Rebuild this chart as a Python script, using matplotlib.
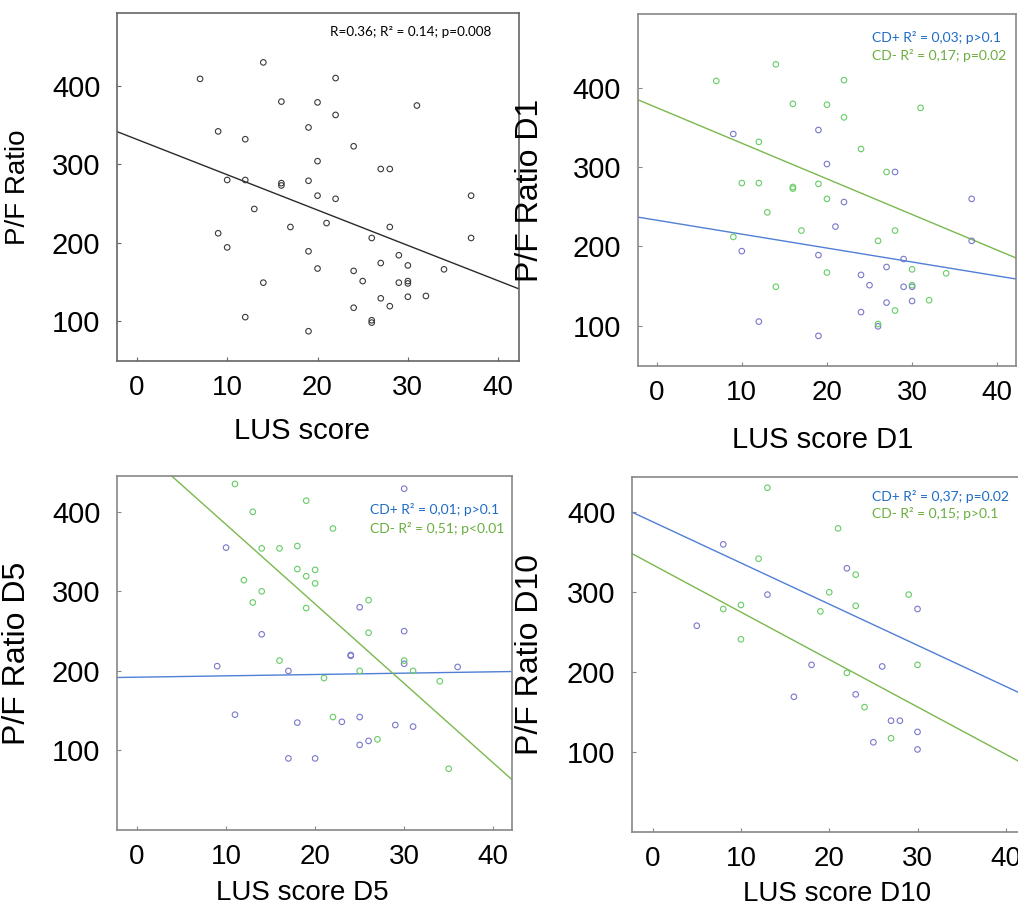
import matplotlib
import matplotlib.pyplot as plt

matplotlib.use("Agg")

# Panel A: all patients, LUS score vs P/F ratio
lus_all = [7, 14, 22, 16, 20, 22, 31, 9, 12, 19, 24, 20, 27, 28, 10, 12, 16, 16, 19, 20,
           22, 37, 13, 17, 21, 28, 9, 26, 37, 10, 29, 19, 27, 30, 20, 24, 34, 25, 29, 30,
           30, 14, 30, 32, 27, 28, 24, 12, 26, 26, 19]
pf_all = [409, 430, 410, 380, 379, 363, 375, 342, 332, 347, 323, 304, 294, 294, 280, 280,
          276, 273, 279, 260, 256, 260, 243, 220, 225, 220, 212, 206, 206, 194, 184, 189,
          174, 171, 167, 164, 166, 151, 149, 151, 148, 149, 131, 132, 129, 119, 117, 105,
          101, 98, 87]
line_all = (331.8, -4.51)  # intercept, slope

# Panel B: day 1, CD+ (blue) and CD- (green)
d1_pos_lus = [9, 19, 20, 28, 37, 22, 21, 37, 10, 19, 29, 27, 24, 25, 29, 30, 30, 27, 24, 12, 26, 19]
d1_pos_pf = [342, 347, 304, 294, 260, 256, 225, 207, 194, 189, 184, 174, 164, 151, 149, 149,
             131, 129, 117, 105, 99, 87]
d1_neg_lus = [7, 14, 22, 16, 20, 22, 31, 12, 24, 27, 10, 12, 16, 16, 19, 20, 13, 17, 28, 26,
              9, 30, 34, 20, 30, 14, 32, 28, 26]
d1_neg_pf = [409, 430, 410, 380, 379, 363, 375, 332, 323, 294, 280, 280, 275, 273, 279, 260,
             243, 220, 220, 207, 212, 171, 166, 167, 151, 149, 132, 119, 102]
d1_pos_line = (233.1, -1.76)
d1_neg_line = (375.3, -4.50)

# Panel C: day 5
d5_pos_lus = [30, 10, 25, 14, 30, 24, 24, 9, 17, 30, 36, 11, 18, 23, 25, 29, 31, 25, 26, 17, 20]
d5_pos_pf = [429, 355, 280, 246, 250, 220, 219, 206, 200, 209, 205, 145, 135, 136, 142, 132,
             130, 107, 112, 90, 90]
d5_neg_lus = [11, 19, 13, 22, 14, 16, 18, 18, 20, 19, 20, 12, 14, 13, 19, 26, 26, 16, 30, 25,
              31, 21, 34, 22, 27, 35]
d5_neg_pf = [435, 414, 400, 379, 354, 354, 357, 328, 327, 319, 310, 314, 300, 286, 279, 289,
             248, 213, 213, 200, 200, 191, 187, 142, 114, 77]
d5_pos_line = (192.1, 0.169)
d5_neg_line = (483.9, -9.99)

# Panel D: day 10
d10_pos_lus = [8, 22, 13, 30, 5, 18, 26, 16, 23, 27, 28, 30, 25, 30]
d10_pos_pf = [360, 330, 297, 279, 258, 209, 207, 169, 172, 139, 139, 125, 112, 103]
d10_neg_lus = [13, 21, 12, 23, 20, 29, 23, 19, 8, 10, 10, 22, 30, 24, 27]
d10_neg_pf = [431, 380, 342, 322, 300, 297, 283, 276, 279, 284, 241, 199, 209, 156, 117]
d10_pos_line = (388.3, -5.16)
d10_neg_line = (334.5, -5.94)

x_ticks = [0, 10, 20, 30, 40]
y_ticks = [100, 200, 300, 400]

BLUE_PT = "#7878cc"
GREEN_PT = "#66cc66"
BLUE_LINE = "#4f7fd6"
GREEN_LINE = "#7ab84e"
BLUE_TXT = "#1f6cc4"
GREEN_TXT = "#6aae3e"

plt.rcParams["font.family"] = ["Liberation Sans", "DejaVu Sans"]

fig = plt.figure(figsize=(10.18, 9.11), dpi=100)

ax1 = fig.add_axes([0.1149, 0.6037, 0.3949, 0.3820])
ax2 = fig.add_axes([0.6264, 0.5983, 0.3716, 0.3864])
ax3 = fig.add_axes([0.1149, 0.0889, 0.3880, 0.3886])
ax4 = fig.add_axes([0.6208, 0.0871, 0.3870, 0.3894])


def style(ax, xlim, ylim, spine_color):
    ax.set_xlim(*xlim)
    ax.set_ylim(*ylim)
    ax.set_xticks(x_ticks)
    ax.set_yticks(y_ticks)
    ax.tick_params(axis="x", direction="in", length=3, color=spine_color,
                   labelsize=20, pad=10)
    ax.tick_params(axis="y", direction="in", length=3, color=spine_color,
                   labelsize=21, pad=12)
    for s in ax.spines.values():
        s.set_color(spine_color)
        s.set_linewidth(1.2)


def scatter(ax, xs, ys, color):
    ax.scatter(xs, ys, s=16, facecolors="none", edgecolors=color, linewidths=0.8, zorder=3)


def fit_line(ax, line, color):
    ax.axline((0, line[0]), slope=line[1], color=color, lw=1.0, zorder=2)


# top left
scatter(ax1, lus_all, pf_all, "#3a3a3a")
fit_line(ax1, line_all, "#2a2a2a")
style(ax1, (-2.2, 42.3), (49, 493), "#666666")
ax1.text(0.53, 0.946, "R=0.36; R² = 0.14; p=0.008", transform=ax1.transAxes,
         fontsize=9.7, family="Lato", va="center", ha="left", color="black")
ax1.set_xlabel("LUS score", fontsize=21)
ax1.set_ylabel("P/F Ratio", fontsize=20)
ax1.xaxis.set_label_coords(0.46, -0.16)
ax1.yaxis.set_label_coords(-0.215, 0.5)

# top right
scatter(ax2, d1_pos_lus, d1_pos_pf, BLUE_PT)
scatter(ax2, d1_neg_lus, d1_neg_pf, GREEN_PT)
fit_line(ax2, d1_pos_line, BLUE_LINE)
fit_line(ax2, d1_neg_line, GREEN_LINE)
style(ax2, (-2.23, 42.2), (49, 493.6), "#888888")
ax2.text(0.619, 0.933, "CD+ R² = 0,03; p>0.1", transform=ax2.transAxes,
         fontsize=10, family="Lato", va="center", color=BLUE_TXT)
ax2.text(0.619, 0.881, "CD- R² = 0,17; p=0.02", transform=ax2.transAxes,
         fontsize=10, family="Lato", va="center", color=GREEN_TXT)
ax2.set_xlabel("LUS score D1", fontsize=21)
ax2.set_ylabel("P/F Ratio D1", fontsize=23)
ax2.xaxis.set_label_coords(0.49, -0.17)
ax2.yaxis.set_label_coords(-0.245, 0.5)

# bottom left
scatter(ax3, d5_pos_lus, d5_pos_pf, BLUE_PT)
scatter(ax3, d5_neg_lus, d5_neg_pf, GREEN_PT)
fit_line(ax3, d5_pos_line, BLUE_LINE)
fit_line(ax3, d5_neg_line, GREEN_LINE)
style(ax3, (-2.25, 42.1), (0, 445), "#888888")
ax3.text(0.64, 0.904, "CD+ R² = 0,01; p>0.1", transform=ax3.transAxes,
         fontsize=10, family="Lato", va="center", color=BLUE_TXT)
ax3.text(0.64, 0.853, "CD- R² = 0,51; p<0.01", transform=ax3.transAxes,
         fontsize=10, family="Lato", va="center", color=GREEN_TXT)
ax3.set_xlabel("LUS score D5", fontsize=20)
ax3.set_ylabel("P/F Ratio D5", fontsize=23)
ax3.xaxis.set_label_coords(0.47, -0.14)
ax3.yaxis.set_label_coords(-0.215, 0.5)

# bottom right (cut at the figure edge, as in the source)
scatter(ax4, d10_pos_lus, d10_pos_pf, BLUE_PT)
scatter(ax4, d10_neg_lus, d10_neg_pf, GREEN_PT)
fit_line(ax4, d10_pos_line, BLUE_LINE)
fit_line(ax4, d10_neg_line, GREEN_LINE)
style(ax4, (-2.34, 42.28), (0, 444.5), "#888888")
ax4.spines["right"].set_visible(False)
ax4.text(0.609, 0.944, "CD+ R² = 0,37; p=0.02", transform=ax4.transAxes,
         fontsize=10, family="Lato", va="center", color=BLUE_TXT)
ax4.text(0.609, 0.896, "CD- R² = 0,15; p>0.1", transform=ax4.transAxes,
         fontsize=10, family="Lato", va="center", color=GREEN_TXT)
ax4.set_xlabel("LUS score D10", fontsize=20)
ax4.set_ylabel("P/F Ratio D10", fontsize=23)
ax4.xaxis.set_label_coords(0.52, -0.14)
ax4.yaxis.set_label_coords(-0.22, 0.5)

fig.savefig("out.png", dpi=100)
